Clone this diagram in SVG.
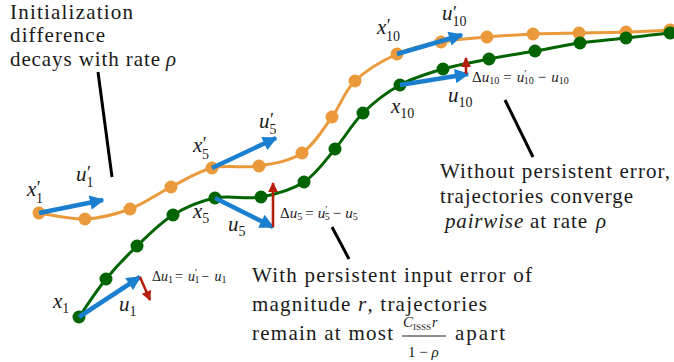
<svg xmlns="http://www.w3.org/2000/svg" width="674" height="362" viewBox="0 0 674 362">
<style>
.t{font-family:"Liberation Serif",serif;font-size:21px;fill:#1a1a1a}
.ti{font-style:italic}
.m{font-family:"Liberation Serif",serif;font-style:italic;font-size:21px;fill:#1a1a1a}
.s{font-style:normal;font-size:14px}
.p{font-style:normal;font-size:18px}
.d{font-family:"Liberation Serif",serif;font-size:15px;fill:#1a1a1a}
.di{font-style:italic}
.ds{font-size:10px}
.go{fill:#EB9A3B}
.gg{fill:#006400}
.co{fill:none;stroke:#EB9A3B;stroke-width:3}
.cg{fill:none;stroke:#006400;stroke-width:3}
.pl{stroke:#000;stroke-width:3}
.ab{stroke:#1B7FCF;stroke-width:4.5;marker-end:url(#mb)}
.ar{stroke:#B8200E;stroke-width:2.6;marker-end:url(#mr)}
</style>
<defs>
<marker id="mb" viewBox="0 0 10 10" refX="9" refY="5" markerWidth="3.4" markerHeight="3.2" orient="auto" markerUnits="strokeWidth"><path d="M0,0 L10,5 L0,10 z" fill="#1B7FCF"/></marker>
<marker id="mr" viewBox="0 0 10 10" refX="9" refY="5" markerWidth="4" markerHeight="3.8" orient="auto" markerUnits="strokeWidth"><path d="M0,0 L10,5 L0,10 z" fill="#B8200E"/></marker>
</defs>
<g id="connectors">
<path class="co" d="M39,213 C46.7,214 69.8,219.7 85,219 C100.2,218.3 115.7,214.3 130,209 C144.3,203.7 157.3,193.8 171,187 C184.7,180.2 197.3,171.5 212,168 C226.7,164.5 244,168.5 259,166 C274,163.5 289.8,161.2 302,153 C314.2,144.8 323.2,129 332,117 C340.8,105 344.2,91.5 355,81 C365.8,70.5 382.7,60.5 397,54 C411.3,47.5 426,44.8 441,42 C456,39.2 471.7,38.3 487,37 C502.3,35.7 517.7,34.7 533,34 C548.3,33.3 563.5,33.3 579,33 C594.5,32.7 610.8,32.5 626,32 C641.2,31.5 661,30.5 670,30 L680,29"/>
<path class="cg" d="M79,317 C83.5,310.7 96.3,290.8 106,279 C115.7,267.2 125.8,256.7 137,246 C148.2,235.3 160,223 173,215 C186,207 200.3,201 215,198 C229.7,195 246.2,199.7 261,197 C275.8,194.3 291.7,190 304,182 C316.3,174 325.2,160.5 335,149 C344.8,137.5 352.2,123.7 363,113 C373.8,102.3 386.7,92.3 400,85 C413.3,77.7 428.2,73.3 443,69 C457.8,64.7 473.7,62 489,59 C504.3,56 519.8,53.7 535,51 C550.2,48.3 564.8,45.2 580,43 C595.2,40.8 611,39.7 626,38 C641,36.3 657.7,34.2 670,33 L680,32"/>
<line class="pl" x1="98" y1="72" x2="112" y2="177"/>
<line class="pl" x1="332" y1="227" x2="349" y2="259"/>
<line class="pl" x1="505" y1="100" x2="533" y2="157"/>
</g>
<g id="orange-points">
<g id="xp1"><circle class="go" cx="39" cy="213" r="6.5"/></g>
<g id="xp2"><circle class="go" cx="85" cy="219" r="6.5"/></g>
<g id="xp3"><circle class="go" cx="130" cy="209" r="6.5"/></g>
<g id="xp4"><circle class="go" cx="171" cy="187" r="6.5"/></g>
<g id="xp5"><circle class="go" cx="212" cy="168" r="6.5"/></g>
<g id="xp6"><circle class="go" cx="259" cy="166" r="6.5"/></g>
<g id="xp7"><circle class="go" cx="302" cy="153" r="6.5"/></g>
<g id="xp8"><circle class="go" cx="332" cy="117" r="6.5"/></g>
<g id="xp9"><circle class="go" cx="355" cy="81" r="6.5"/></g>
<g id="xp10"><circle class="go" cx="397" cy="54" r="6.5"/></g>
<g id="xp11"><circle class="go" cx="441" cy="42" r="6.5"/></g>
<g id="xp12"><circle class="go" cx="487" cy="37" r="6.5"/></g>
<g id="xp13"><circle class="go" cx="533" cy="34" r="6.5"/></g>
<g id="xp14"><circle class="go" cx="579" cy="33" r="6.5"/></g>
<g id="xp15"><circle class="go" cx="626" cy="32" r="6.5"/></g>
<g id="xp16"><circle class="go" cx="670" cy="30" r="6.5"/></g>
</g>
<g id="green-points">
<g id="x1"><circle class="gg" cx="79" cy="317" r="6.5"/></g>
<g id="x2"><circle class="gg" cx="106" cy="279" r="6.5"/></g>
<g id="x3"><circle class="gg" cx="137" cy="246" r="6.5"/></g>
<g id="x4"><circle class="gg" cx="173" cy="215" r="6.5"/></g>
<g id="x5"><circle class="gg" cx="215" cy="198" r="6.5"/></g>
<g id="x6"><circle class="gg" cx="261" cy="197" r="6.5"/></g>
<g id="x7"><circle class="gg" cx="304" cy="182" r="6.5"/></g>
<g id="x8"><circle class="gg" cx="335" cy="149" r="6.5"/></g>
<g id="x9"><circle class="gg" cx="363" cy="113" r="6.5"/></g>
<g id="x10"><circle class="gg" cx="400" cy="85" r="6.5"/></g>
<g id="x11"><circle class="gg" cx="443" cy="69" r="6.5"/></g>
<g id="x12"><circle class="gg" cx="489" cy="59" r="6.5"/></g>
<g id="x13"><circle class="gg" cx="535" cy="51" r="6.5"/></g>
<g id="x14"><circle class="gg" cx="580" cy="43" r="6.5"/></g>
<g id="x15"><circle class="gg" cx="626" cy="38" r="6.5"/></g>
<g id="x16"><circle class="gg" cx="670" cy="33" r="6.5"/></g>
</g>
<g id="arrows">
<line class="ab" x1="39" y1="213" x2="103" y2="200"/>
<line class="ab" x1="79" y1="317" x2="140" y2="277"/>
<line class="ab" x1="212" y1="168" x2="276" y2="138"/>
<line class="ab" x1="215" y1="198" x2="273" y2="227"/>
<line class="ab" x1="397" y1="54" x2="462" y2="35"/>
<line class="ab" x1="400" y1="85" x2="468" y2="74"/>
<line class="ar" x1="140" y1="277" x2="150" y2="300"/>
<line class="ar" x1="273" y1="227" x2="273" y2="183"/>
<line class="ar" x1="466" y1="74" x2="466" y2="58"/>
</g>
<g id="labels">
<text class="m" x="27" y="196">x<tspan class="p" dx="0.5" dy="-2">′</tspan><tspan class="s" x="36" y="203">1</tspan></text>
<text class="m" x="76" y="181">u<tspan class="p" dx="0.5" dy="-2">′</tspan><tspan class="s" x="86.5" y="187">1</tspan></text>
<text class="m" x="53" y="308">x<tspan class="s" dy="5">1</tspan></text>
<text class="m" x="119" y="311">u<tspan class="s" dy="5">1</tspan></text>
<text class="m" x="193" y="152">x<tspan class="p" dx="0.5" dy="-2">′</tspan><tspan class="s" x="202" y="159">5</tspan></text>
<text class="m" x="259" y="128">u<tspan class="p" dx="0.5" dy="-2">′</tspan><tspan class="s" x="269.5" y="134">5</tspan></text>
<text class="m" x="193" y="218">x<tspan class="s" dy="5">5</tspan></text>
<text class="m" x="228" y="231">u<tspan class="s" dy="5">5</tspan></text>
<text class="m" x="377" y="34">x<tspan class="p" dx="0.5" dy="-2">′</tspan><tspan class="s" x="386" y="41">10</tspan></text>
<text class="m" x="442" y="20">u<tspan class="p" dx="0.5" dy="-1">′</tspan><tspan class="s" x="452.5" y="26">10</tspan></text>
<text class="m" x="391" y="113">x<tspan class="s" dy="5">10</tspan></text>
<text class="m" x="448" y="102">u<tspan class="s" dy="5">10</tspan></text>
<text class="d" x="152" y="281" style="font-size:14px">Δ<tspan class="di">u</tspan><tspan class="ds" dy="2">1</tspan><tspan dx="2" dy="-2">=</tspan><tspan class="di" dx="5">u</tspan><tspan class="ds" dy="-5">′</tspan><tspan class="ds" dx="-2.5" dy="7">1</tspan><tspan dx="2" dy="-2">−</tspan><tspan class="di" dx="5">u</tspan><tspan class="ds" dy="2">1</tspan></text>
<text class="d" x="280" y="218">Δ<tspan class="di">u</tspan><tspan class="ds" dy="2">5</tspan><tspan dx="3" dy="-2">=</tspan><tspan class="di" dx="4">u</tspan><tspan class="ds" dy="-5">′</tspan><tspan class="ds" dx="-2.5" dy="7">5</tspan><tspan dx="3" dy="-2">−</tspan><tspan class="di" dx="4">u</tspan><tspan class="ds" dy="2">5</tspan></text>
<text class="d" x="472" y="82">Δ<tspan class="di">u</tspan><tspan class="ds" dy="2">10</tspan><tspan dx="4" dy="-2">=</tspan><tspan class="di" dx="5">u</tspan><tspan class="ds" dy="-5">′</tspan><tspan class="ds" dx="-2.5" dy="7">10</tspan><tspan dx="4" dy="-2">−</tspan><tspan class="di" dx="5">u</tspan><tspan class="ds" dy="2">10</tspan></text>
</g>
<g id="note-init">
<text class="t" x="10" y="19" textLength="123" lengthAdjust="spacing">Initialization</text>
<text class="t" x="10" y="42" textLength="95" lengthAdjust="spacing">difference</text>
<text class="t" x="10" y="66" textLength="150" lengthAdjust="spacing">decays with rate</text>
<text class="m" x="166" y="66">ρ</text>
</g>
<g id="note-converge">
<text class="t" x="440" y="178" textLength="230" lengthAdjust="spacing">Without persistent error,</text>
<text class="t" x="440" y="203" textLength="193" lengthAdjust="spacing">trajectories converge</text>
<text class="t" x="445" y="228" textLength="142" lengthAdjust="spacing"><tspan class="ti">pairwise</tspan> at rate</text>
<text class="m" x="596" y="228">ρ</text>
</g>
<g id="note-persistent">
<text class="t" x="252" y="282" textLength="280" lengthAdjust="spacing">With persistent input error of</text>
<text class="t" x="252" y="311" textLength="235" lengthAdjust="spacing">magnitude <tspan class="ti">r</tspan>, trajectories</text>
<text class="t" x="252" y="340" textLength="141" lengthAdjust="spacing">remain at most</text>
<text class="m" x="403" y="327" style="font-size:15px">C<tspan class="s" style="font-size:9px" dy="3">ISSS</tspan><tspan dx="1" dy="-3" style="font-size:14px">r</tspan></text>
<line x1="402" y1="336" x2="446" y2="336" stroke="#1a1a1a" stroke-width="1"/>
<text class="d" x="408" y="357">1 − <tspan class="di">ρ</tspan></text>
<text class="t" x="455" y="340" textLength="50" lengthAdjust="spacing">apart</text>
</g>
</svg>
